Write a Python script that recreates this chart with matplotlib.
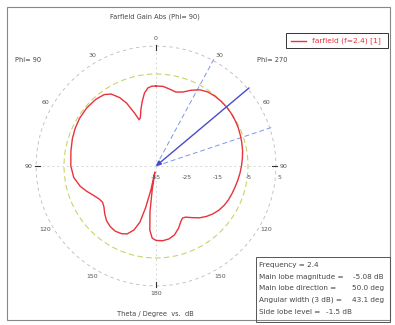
import numpy as np
import matplotlib.pyplot as plt

# Farfield gain cut (dB) versus theta, right half is Phi=270, left half is Phi=90
theta_phi270 = [0, 5, 10, 15, 20, 25, 30, 35, 40, 45, 50, 55, 60, 65, 70, 75, 80, 85, 90,
                95, 100, 105, 110, 115, 120, 125, 130, 135, 140, 145, 150, 153, 156, 160,
                165, 170, 175, 180]
gain_phi270 = [-9.0, -9.0, -9.6, -10.1, -9.4, -7.8, -6.4, -5.6, -5.3, -5.15, -5.08, -5.15,
               -5.3, -5.5, -5.8, -6.1, -6.4, -6.8, -7.2, -7.6, -8.0, -8.4, -8.7, -9.0,
               -9.4, -10.0, -10.8, -11.8, -13.0, -14.5, -15.8, -16.0, -15.2, -13.5,
               -11.8, -10.9, -10.6, -10.8]

theta_phi90 = [0, 3, 6, 9, 12, 15, 18, 20, 22, 25, 28, 32, 36, 42, 50, 58, 65, 72, 80, 90,
               98, 105, 110, 115, 120, 124, 128, 133, 138, 143, 148, 153, 157, 161, 164,
               166, 168, 169.5, 171, 172.5, 174.5, 177, 180]
gain_phi90 = [-9.0, -9.0, -9.5, -11.0, -13.5, -16.0, -18.5, -19.0, -16.5, -12.5, -9.8,
              -7.4, -6.3, -5.8, -5.6, -5.7, -6.0, -6.4, -6.9, -7.3, -8.0, -9.5, -11.0,
              -12.5, -13.6, -14.0, -13.5, -12.2, -11.0, -10.3, -10.0, -10.3, -11.0,
              -13.0, -16.0, -21.0, -27.0, -33.0, -27.0, -20.0, -14.0, -11.5, -10.8]

frequency = 2.4
main_lobe_mag = -5.08
main_lobe_dir = 50.0
angular_width = 43.1
side_lobe_level = -1.5

r_ticks = [-35, -25, -15, -5, 5]
angle_ticks = [0, 30, 60, 90, 120, 150, 180]

r_min, r_max = -35, 5

red = '#e8323c'
grey = '#555555'
box_font = ['Liberation Sans Narrow', 'DejaVu Sans']

fig = plt.figure(figsize=(3.95, 3.25), dpi=100)

# outer frame
fig.add_artist(plt.Rectangle((7 / 395, 5 / 325), 383 / 395, 313 / 325, transform=fig.transFigure,
                             fill=False, edgecolor='#888888', lw=0.8))

R = 123
cx, cy = 156, 166
ax = fig.add_axes([(cx - R) / 395, (325 - cy - R) / 325, 2 * R / 395, 2 * R / 325],
                  projection='polar')
ax.set_theta_zero_location('N')
ax.set_theta_direction(-1)
ax.set_ylim(r_min, r_max)
ax.set_axis_off()

full = np.radians(np.linspace(0, 360, 721))

# grid: outer dashed ring and cross hair
ax.plot(full, np.full(full.size, r_max - 1), ls=(0, (4, 4)), color='#bbbbbb', lw=0.6)
for a in [0, 90, 180, 270]:
    ax.plot([np.radians(a)] * 2, [r_min, r_max - 1], ls=(0, (3, 4)), color='#c8c8c8', lw=0.5)
    ax.plot([np.radians(a)] * 2, [r_max - 2.2, r_max - 0.6], color='#333333', lw=0.8)

# main lobe circle
ax.plot(full, np.full(full.size, main_lobe_mag), ls=(0, (5, 3)), color='#c9d36a', lw=0.8)

# 3 dB beam width and main lobe direction
for a in [main_lobe_dir - angular_width / 2, main_lobe_dir + angular_width / 2]:
    ax.plot([np.radians(a)] * 2, [r_min, r_max - 0.5], ls=(0, (5, 3)), color='#7d96e6', lw=0.7)
ax.annotate('', xy=(0, r_min), xytext=(np.radians(main_lobe_dir), r_max - 0.5),
            arrowprops=dict(arrowstyle='-|>', color='#4a4ad0', lw=1.0,
                            mutation_scale=7, shrinkA=0, shrinkB=0))

# gain curve: right half then left half back to the top
angles = np.concatenate([np.radians(theta_phi270),
                         np.radians(360 - np.array(theta_phi90[::-1]))])
gains = np.concatenate([gain_phi270, gain_phi90[::-1]])
ax.plot(angles, gains, color=red, lw=1.0)

# angle labels on both halves
lab_r = r_max + 1.5
for t in angle_ticks:
    sides = [t] if t in (0, 180) else [t, 360 - t]
    for a in sides:
        ax.text(np.radians(a), lab_r, str(t), fontsize=4.5, color=grey,
                ha='center', va='center', clip_on=False)

# radial labels along the horizontal axis
for r in r_ticks:
    ax.annotate(str(r), xy=(np.radians(90), r), xytext=(0, -8), textcoords='offset points',
                fontsize=4.5, color=grey, ha='center', va='center', annotation_clip=False)

fs = 4.8
fig.text(155 / 395, 1 - 17 / 325, 'Farfield Gain Abs (Phi= 90)', fontsize=fs, color='#444444',
         ha='center', va='center')
fig.text(28 / 395, 1 - 60 / 325, 'Phi= 90', fontsize=fs, color='#444444', ha='center',
         va='center')
fig.text(272 / 395, 1 - 60 / 325, 'Phi= 270', fontsize=fs, color='#444444', ha='center',
         va='center')
fig.text(155 / 395, 1 - 314 / 325, 'Theta / Degree  vs.  dB', fontsize=fs, color='#444444',
         ha='center', va='center')

# legend
fig.add_artist(plt.Rectangle((286 / 395, 1 - 48 / 325), 102 / 395, 15 / 325,
                             transform=fig.transFigure, fill=False, edgecolor='#333333', lw=0.7))
fig.add_artist(plt.Line2D([291 / 395, 306 / 395], [1 - 40.5 / 325] * 2,
                          transform=fig.transFigure, color=red, lw=1.0))
fig.text(312 / 395, 1 - 40.5 / 325, 'farfield (f=2.4) [1]', fontsize=5.4, color=red,
         ha='left', va='center')

# summary box
fig.add_artist(plt.Rectangle((256 / 395, 1 - 322 / 325), 134 / 395, 65 / 325,
                             transform=fig.transFigure, fill=False, edgecolor='#555555', lw=0.7))
rows = [
    ('Frequency = %.1f' % frequency, ''),
    ('Main lobe magnitude =', '%.2f dB' % main_lobe_mag),
    ('Main lobe direction =', '%.1f deg' % main_lobe_dir),
    ('Angular width (3 dB) =', '%.1f deg' % angular_width),
    ('Side lobe level =', '%.1f dB' % side_lobe_level),
]
for i, (left, right) in enumerate(rows):
    y = 1 - (265 + 11.7 * i) / 325
    fig.text(259 / 395, y, left, fontsize=5.2, color='#444444', ha='left', va='center',
             family=box_font)
    if right:
        x = 352 if i == 4 else 384
        fig.text(x / 395, y, right, fontsize=5.2, color='#444444', ha='right', va='center',
                 family=box_font)

fig.savefig('out.png', dpi=100)
